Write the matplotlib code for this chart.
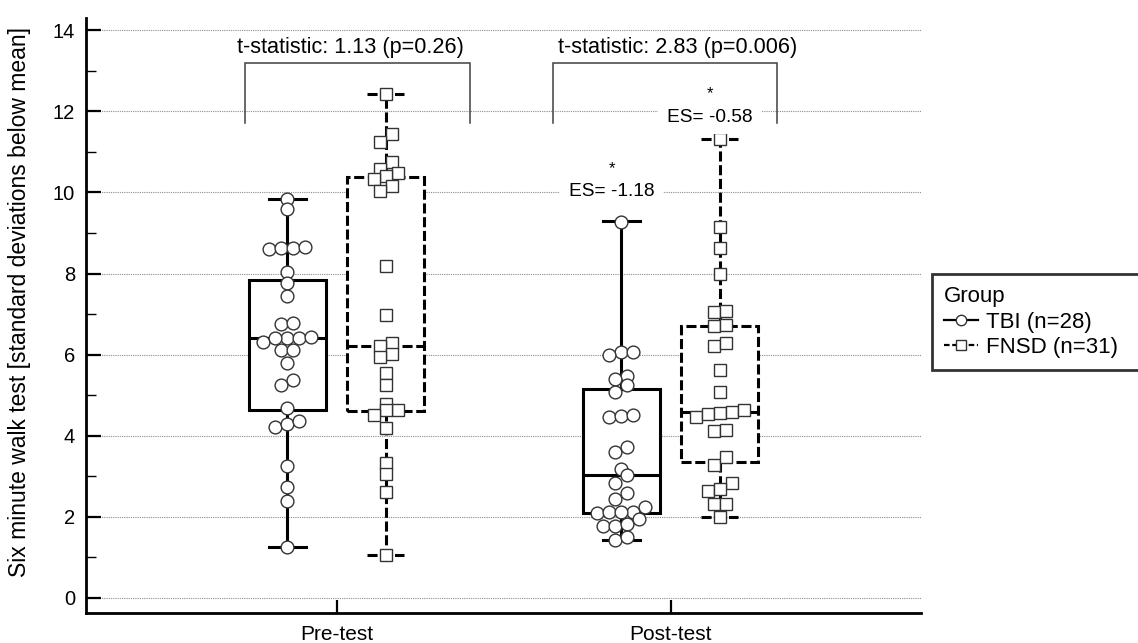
import numpy as np
import matplotlib
matplotlib.use("Agg")
import matplotlib.pyplot as plt
from matplotlib.lines import Line2D

plt.rcParams['font.family'] = ['Liberation Sans', 'DejaVu Sans']

# ---------------- data ----------------
categories = ["Pre-test", "Post-test"]
groups = ["TBI (n=28)", "FNSD (n=31)"]

tbi_pre = [9.85, 9.59, 8.60, 8.62, 8.62, 8.66, 8.04, 7.76, 7.45, 6.75, 6.77,
           6.31, 6.40, 6.40, 6.41, 6.44, 6.10, 6.11, 5.80, 5.25, 5.37, 4.69,
           4.21, 4.29, 4.36, 3.26, 2.73, 2.39, 1.26]
fnsd_pre = [12.44, 11.44, 11.25, 10.76, 10.59, 10.47, 10.41, 10.34, 10.16,
            10.04, 8.19, 6.98, 6.28, 6.22, 6.01, 5.95, 5.54, 5.25, 4.77, 4.63,
            4.62, 4.51, 4.18, 3.32, 3.05, 2.61, 1.06]
tbi_post = [9.28, 6.06, 6.06, 5.99, 5.47, 5.39, 5.25, 5.08, 4.45, 4.49, 4.51,
            3.59, 3.71, 3.17, 3.03, 2.84, 2.43, 2.58, 2.10, 2.12, 2.12, 2.12,
            2.23, 1.76, 1.77, 1.82, 1.95, 1.41, 1.50]
fnsd_post = [11.32, 9.15, 8.62, 7.99, 7.04, 7.08, 6.71, 6.73, 6.21, 6.28, 5.62,
             5.08, 4.47, 4.53, 4.55, 4.59, 4.63, 4.12, 4.14, 3.28, 3.46, 2.83,
             2.64, 2.68, 2.31, 2.31, 2.00]

# box statistics: whisker low, Q1, median, Q3, whisker high
tbi_stats = [[1.26, 4.63, 6.40, 7.84, 9.85], [1.41, 2.08, 3.02, 5.14, 9.29]]
fnsd_stats = [[1.06, 4.61, 6.22, 10.39, 12.44], [2.00, 3.35, 4.57, 6.70, 11.32]]

t_labels = ["t-statistic: 1.13 (p=0.26)", "t-statistic: 2.83 (p=0.006)"]
es_labels = ["ES= -1.18", "ES= -0.58"]

# ---------------- figure ----------------
W, H = 1138, 643
fig = plt.figure(figsize=(W / 100, H / 100), dpi=100)
ax = fig.add_axes([86 / W, 1 - 613 / H, (921 - 86) / W, (613 - 18.3) / H])
ax.set_xlim(-0.75, 1.75)
ax.set_ylim(-0.38, 14.3)

xpos = np.arange(len(categories))
dodge = 0.147
box_w = 0.23
cap_w = 0.11

px_per_x = (921 - 86) / 2.5


def swarm_offsets(vals, tol=0.2, spacing_px=12.0):
    vals = np.asarray(vals, dtype=float)
    order = np.argsort(vals)
    offs = np.zeros(len(vals))
    rows = []
    for i in order:
        if rows and vals[i] - vals[rows[-1][0]] < tol:
            rows[-1].append(i)
        else:
            rows.append([i])
    s = spacing_px / px_per_x
    for r in rows:
        n = len(r)
        for k, i in enumerate(r):
            offs[i] = (k - (n - 1) / 2) * s
    return offs


def make_stats(st):
    lo, q1, med, q3, hi = st
    return dict(whislo=lo, q1=q1, med=med, q3=q3, whishi=hi, fliers=[])


solid = dict(color='black', linewidth=2.2, linestyle='-')
dash = dict(color='black', linewidth=2.2, linestyle=(0, (3.3, 1.2)))

for ci in range(len(categories)):
    ax.bxp([make_stats(tbi_stats[ci])], positions=[xpos[ci] - dodge], widths=box_w,
           capwidths=[cap_w], patch_artist=True, showfliers=False,
           boxprops=dict(facecolor='white', edgecolor='black', linewidth=2.2),
           whiskerprops=solid, capprops=solid, medianprops=solid,
           manage_ticks=False, zorder=2)
    ax.bxp([make_stats(fnsd_stats[ci])], positions=[xpos[ci] + dodge], widths=box_w,
           capwidths=[cap_w], patch_artist=True, showfliers=False,
           boxprops=dict(facecolor='white', edgecolor='black', linewidth=2.2,
                         linestyle=(0, (3.3, 1.2))),
           whiskerprops=dash, capprops=dash, medianprops=dash,
           manage_ticks=False, zorder=2)

for ci, vals in enumerate([tbi_pre, tbi_post]):
    off = swarm_offsets(vals)
    ax.plot(xpos[ci] - dodge + off, vals, linestyle='none', marker='o', ms=9.2,
            mfc='white', mec='#333333', mew=1.0, zorder=4)
for ci, vals in enumerate([fnsd_pre, fnsd_post]):
    off = swarm_offsets(vals)
    ax.plot(xpos[ci] + dodge + off, vals, linestyle='none', marker='s', ms=9.0,
            mfc='white', mec='#333333', mew=1.0, zorder=4)

# axes styling
ax.set_yticks(np.arange(0, 15, 2))
ax.set_yticks(np.arange(1, 15, 2), minor=True)
ax.set_xticks(xpos)
ax.set_xticklabels(categories, fontsize=15)
ax.tick_params(axis='y', which='major', direction='in', length=11, width=1.6,
               labelsize=14.5, pad=8)
ax.tick_params(axis='y', which='minor', direction='in', length=7, width=1.0)
ax.tick_params(axis='x', which='major', direction='in', length=9.5, width=1.6, pad=8.5)
ax.yaxis.grid(True, which='major', color='#8c8c8c', linestyle=(0, (1, 1)),
              linewidth=0.8, zorder=0)
ax.set_axisbelow(True)
for s in ['top', 'right']:
    ax.spines[s].set_visible(False)
for s in ['left', 'bottom']:
    ax.spines[s].set_linewidth(2.0)

ax.set_ylabel("Six minute walk test [standard deviations below mean]", fontsize=16.5)
ax.yaxis.set_label_coords((31 - 86) / (921 - 86), 0.523)

# brackets and statistics
br_x = [(-0.275, 0.401), (0.647, 1.319)]
br_top, br_bot = 13.19, 11.72
t_x = [0.043, 1.022]
for (x0, x1), tx, lab in zip(br_x, t_x, t_labels):
    ax.plot([x0, x0, x1, x1], [br_bot, br_top, br_top, br_bot], color='#404040',
            linewidth=1.1, zorder=3, solid_joinstyle='miter')
    ax.text(tx, 13.57, lab, ha='center', va='center', fontsize=15.6)

es_x = [0.824, 1.118]
es_y = [10.02, 11.86]
for ex, ey, lab in zip(es_x, es_y, es_labels):
    ax.text(ex, ey, lab, ha='center', va='center', fontsize=13.8, zorder=5,
            bbox=dict(boxstyle='square,pad=0.45', fc='white', ec='none'))
    ax.text(ex, ey + 0.58, "*", ha='center', va='center', fontsize=12, zorder=5)

# legend
handles = [Line2D([], [], color='black', lw=1.6, marker='o', ms=7.5, mfc='white',
                  mec='#333333'),
           Line2D([], [], color='black', lw=1.6, linestyle=(0, (2.5, 1.2)), marker='s',
                  ms=7.5, mfc='white', mec='#333333')]
leg = fig.legend(handles, groups, title="Group", loc='upper left',
                 bbox_to_anchor=(932 / W, 1 - 274 / H - 0.01, 0.25, 0.01), mode='expand',
                 fontsize=16, title_fontsize=16, frameon=True, fancybox=False,
                 edgecolor='black', handlelength=1.5, handletextpad=0.4,
                 labelspacing=0.2, borderpad=0.55, borderaxespad=0)
leg._legend_box.align = 'left'
leg.get_frame().set_linewidth(2.0)

fig.savefig("out.png", dpi=100)
